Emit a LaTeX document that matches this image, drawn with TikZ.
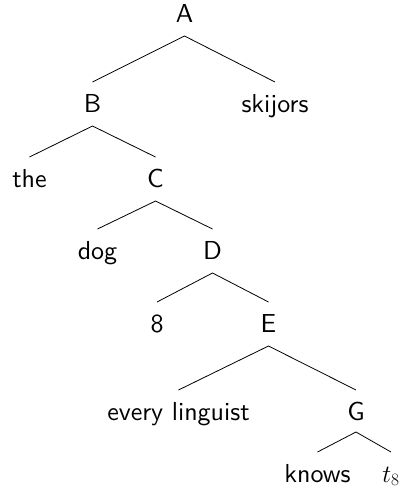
\documentclass[tikz,border=0pt]{standalone}
\usepackage{fontspec}
\setsansfont{lmsans10-regular}[Extension=.otf]
\begin{document}
\begin{tikzpicture}[x=1pt, y=-1pt,
  every node/.style={font=\fontsize{26}{30}\selectfont\sffamily},
  lab/.style={anchor=base, inner sep=0pt, outer sep=0pt,
              text height=30pt, text depth=14pt},
  branch/.style={line width=0.8pt, black}]
  \useasboundingbox (0,0) rectangle (404,491);

  % labels of the tree, placed on their baselines
  \node[lab] (A)     at (184.5, 22)  {A};
  \node[lab] (B)     at (92.5, 112)  {B};
  \node[lab] (skij)  at (275, 112)   {skijors};
  \node[lab] (the)   at (29.5, 187)  {the};
  \node[lab] (C)     at (155.5, 187) {C};
  \node[lab] (dog)   at (97.5, 259)  {dog};
  \node[lab] (D)     at (212.5, 259) {D};
  \node[lab] (eight) at (157, 332)   {8};
  \node[lab] (E)     at (268.5, 332) {E};
  \node[lab] (every) at (178.5, 420) {every linguist};
  \node[lab, text depth=12pt] (G) at (356, 420) {G};
  \node[lab] (knows) at (317.5, 482) {knows};
  \node[lab] (trace) at (391, 482)   {$t_8$};

  % branches
  \draw[branch] (skij.north) -- (A.south) -- (B.north);
  \draw[branch] (the.north) -- (B.south) -- (C.north);
  \draw[branch] (dog.north) -- (C.south) -- (D.north);
  \draw[branch] (eight.north) -- (D.south) -- (E.north);
  \draw[branch] (every.north) -- (E.south) -- (G.north);
  \draw[branch] (knows.north) -- (G.south) -- (trace.north);
\end{tikzpicture}
\end{document}
